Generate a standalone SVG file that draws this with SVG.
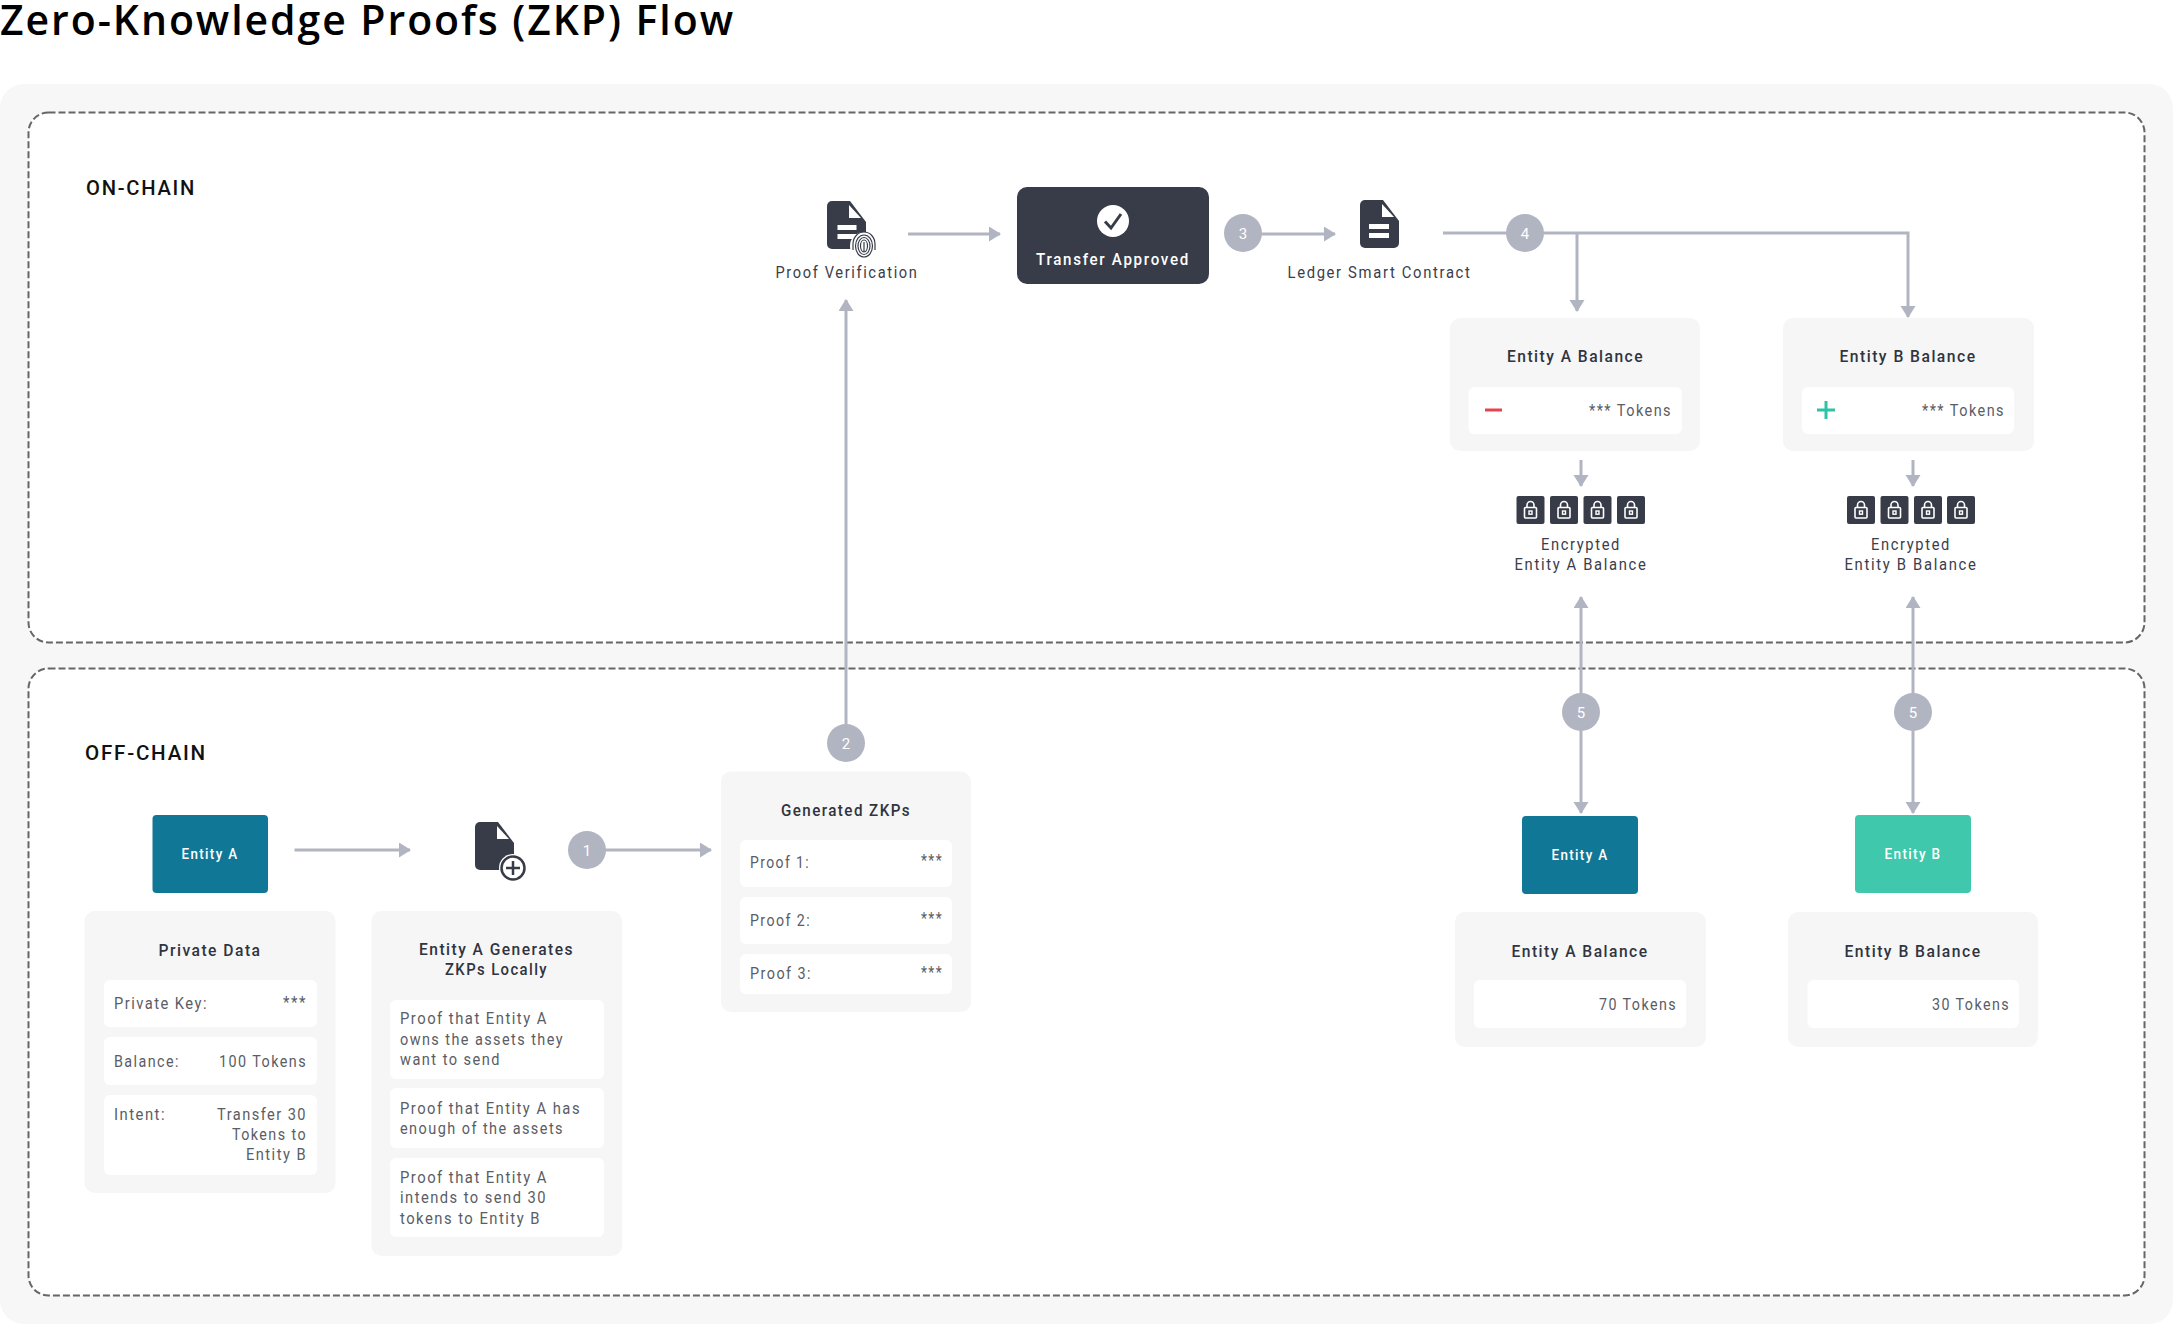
<svg xmlns="http://www.w3.org/2000/svg" xmlns:xlink="http://www.w3.org/1999/xlink" width="2173" height="1324" viewBox="0 0 2173 1324">
<style>
text{font-family:"Roboto","Liberation Sans",sans-serif;fill:#3a3e4a}
.title{font-size:42px;font-weight:600;fill:#000;font-family:"Open Sans","Noto Sans",sans-serif;letter-spacing:2px}
.zone{font-size:21px;font-weight:500;fill:#111;letter-spacing:1.8px}
.h{font-size:17px;font-weight:500;text-anchor:middle;fill:#30343e;letter-spacing:1.6px}
.b{font-size:17px;fill:#5a5d66;letter-spacing:1.7px}
.r{text-anchor:end}
.w{fill:#fff}
.ent{font-size:15px;font-weight:500;text-anchor:middle;fill:#fff;letter-spacing:1.5px}
.n{font-size:15px;text-anchor:middle;fill:#fff}
.cap{font-size:17px;text-anchor:middle;letter-spacing:1.9px}
.card{fill:#f6f6f7}
.in{fill:#fff}
.zonebox{fill:#fff;stroke:#666;stroke-width:2;stroke-dasharray:7 3}
.badge{fill:#b1b5c1}
.ln{fill:none;stroke:#b1b5c1;stroke-width:3}
.dark{fill:#383c48}
</style>
<defs>
<marker id="ah" markerUnits="userSpaceOnUse" markerWidth="13" markerHeight="16" refX="11" refY="7.5" orient="auto-start-reverse"><path d="M0 0L12 7.5L0 15Z" fill="#b1b5c1"/></marker>
<symbol id="doc" overflow="visible"><path d="M5 0H23L39 21V43a5 5 0 0 1-5 5H5a5 5 0 0 1-5-5V5a5 5 0 0 1 5-5Z" fill="#383c48"/><path d="M22 4V17H34Z" fill="#fff"/></symbol>
<g id="lock"><rect width="28" height="28" rx="2" fill="#383c48"/><rect x="8" y="11.500" width="12" height="10.500" rx="1" fill="none" stroke="#fff" stroke-width="1.600"/><path d="M10.500 11.500V9a3.500 3.500 0 0 1 7 0v2.500" fill="none" stroke="#fff" stroke-width="1.600"/><rect x="12.500" y="15" width="3" height="3.200" fill="none" stroke="#fff" stroke-width="1.400"/></g>
</defs>
<text class="title" x="0" y="35" textLength="735" lengthAdjust="spacingAndGlyphs">Zero-Knowledge Proofs (ZKP) Flow</text>
<rect x="0" y="84" width="2173" height="1240" rx="24" fill="#f7f7f7"/>
<g id="zone-on-chain"><rect class="zonebox" x="28.500" y="112.500" width="2116" height="530" rx="20"/><text class="zone" x="86" y="195" textLength="110" lengthAdjust="spacingAndGlyphs">ON-CHAIN</text></g>
<g id="zone-off-chain"><rect class="zonebox" x="28.500" y="668.500" width="2116" height="627" rx="20"/><text class="zone" x="85" y="760" textLength="122" lengthAdjust="spacingAndGlyphs">OFF-CHAIN</text></g>

<g id="connectors">
<path class="ln" d="M294.500 850H410" marker-end="url(#ah)"/>
<path class="ln" d="M587 850H711" marker-end="url(#ah)"/>
<path class="ln" d="M846 743V300" marker-end="url(#ah)"/>
<path class="ln" d="M908 234H1000" marker-end="url(#ah)"/>
<path class="ln" d="M1243 234H1335" marker-end="url(#ah)"/>
<path class="ln" d="M1443 233H1908V317" marker-end="url(#ah)"/>
<path class="ln" d="M1577 233V311" marker-end="url(#ah)"/>
<path class="ln" d="M1581 460V486" stroke-width="2" marker-end="url(#ah)"/>
<path class="ln" d="M1913 460V486" stroke-width="2" marker-end="url(#ah)"/>
<path class="ln" d="M1581 597V813" marker-start="url(#ah)" marker-end="url(#ah)"/>
<path class="ln" d="M1913 597V813" marker-start="url(#ah)" marker-end="url(#ah)"/>
</g>

<g id="proof-verification"><use xlink:href="#doc" href="#doc" x="827" y="201"/><rect x="837.500" y="225" width="19" height="5" fill="#fff"/><rect x="837.500" y="234" width="19" height="5" fill="#fff"/>
<circle cx="864" cy="246" r="14" fill="#fff"/><g fill="none" stroke="#383c48" stroke-width="1.200"><path d="M853 250V244a11 12 0 0 1 22 0V250"/><ellipse cx="864" cy="246" rx="8.500" ry="11"/><ellipse cx="864" cy="246" rx="6" ry="8.500"/><ellipse cx="864" cy="246" rx="3.500" ry="6"/><path d="M864 242V252"/></g>
<text class="cap" x="847" y="278" textLength="143" lengthAdjust="spacingAndGlyphs">Proof Verification</text></g>

<g id="transfer-approved"><rect class="dark" x="1017" y="187" width="192" height="97" rx="10"/><circle cx="1113" cy="221" r="16" fill="#fff"/><path d="M1105 221.500L1111 228L1121 214" fill="none" stroke="#383c48" stroke-width="3"/><text class="cap w" x="1113" y="265" font-weight="500" textLength="154" lengthAdjust="spacingAndGlyphs">Transfer Approved</text></g>

<g id="ledger-contract"><use xlink:href="#doc" href="#doc" x="1360" y="200"/><rect x="1369" y="224" width="20" height="5" fill="#fff"/><rect x="1369" y="233" width="20" height="5" fill="#fff"/><text class="cap" x="1379.500" y="278" textLength="184" lengthAdjust="spacingAndGlyphs">Ledger Smart Contract</text></g>

<g id="badge-3"><circle class="badge" cx="1243" cy="233" r="19"/><text class="n" x="1243" y="239">3</text></g>
<g id="badge-4"><circle class="badge" cx="1525" cy="233" r="19"/><text class="n" x="1525" y="239">4</text></g>

<g id="balance-a-onchain"><rect class="card" x="1450" y="318" width="250" height="133" rx="10"/><text class="h" x="1575.500" y="362" textLength="137" lengthAdjust="spacingAndGlyphs">Entity A Balance</text><rect class="in" x="1468.500" y="387" width="213.500" height="47" rx="6"/><rect x="1485" y="408.500" width="17" height="3" fill="#e8424f"/><text class="b r" x="1672" y="416" textLength="83" lengthAdjust="spacingAndGlyphs">*** Tokens</text></g>
<g id="balance-b-onchain"><rect class="card" x="1783" y="318" width="251" height="133" rx="10"/><text class="h" x="1908" y="362" textLength="137" lengthAdjust="spacingAndGlyphs">Entity B Balance</text><rect class="in" x="1802" y="387" width="212" height="47" rx="6"/><path d="M1817 410H1835M1826 401V419" stroke="#2fc3a5" stroke-width="3" fill="none"/><text class="b r" x="2005" y="416" textLength="83" lengthAdjust="spacingAndGlyphs">*** Tokens</text></g>

<g id="encrypted-a"><use href="#lock" xlink:href="#lock" x="1516.500" y="496"/><use href="#lock" xlink:href="#lock" x="1550" y="496"/><use href="#lock" xlink:href="#lock" x="1583.500" y="496"/><use href="#lock" xlink:href="#lock" x="1617" y="496"/><text class="cap" x="1581" y="550" textLength="80" lengthAdjust="spacingAndGlyphs">Encrypted</text><text class="cap" x="1581" y="570" textLength="133" lengthAdjust="spacingAndGlyphs">Entity A Balance</text></g>
<g id="encrypted-b"><use href="#lock" xlink:href="#lock" x="1847" y="496"/><use href="#lock" xlink:href="#lock" x="1880.500" y="496"/><use href="#lock" xlink:href="#lock" x="1914" y="496"/><use href="#lock" xlink:href="#lock" x="1947" y="496"/><text class="cap" x="1911" y="550" textLength="80" lengthAdjust="spacingAndGlyphs">Encrypted</text><text class="cap" x="1911" y="570" textLength="133" lengthAdjust="spacingAndGlyphs">Entity B Balance</text></g>

<g id="entity-a-source"><rect x="152.500" y="815" width="115.500" height="78" rx="4" fill="#107896"/><text class="ent" x="210" y="859" textLength="57" lengthAdjust="spacingAndGlyphs">Entity A</text></g>
<g id="private-data"><rect class="card" x="84.500" y="911" width="251" height="282" rx="10"/><text class="h" x="210" y="956" textLength="103" lengthAdjust="spacingAndGlyphs">Private Data</text>
<rect class="in" x="104" y="980" width="213" height="47" rx="6"/><text class="b" x="114" y="1009" textLength="94" lengthAdjust="spacingAndGlyphs">Private Key:</text><text class="b r" x="307" y="1008" textLength="24" lengthAdjust="spacingAndGlyphs">***</text>
<rect class="in" x="104" y="1037" width="213" height="48" rx="6"/><text class="b" x="114" y="1067" textLength="66" lengthAdjust="spacingAndGlyphs">Balance:</text><text class="b r" x="307" y="1067" textLength="88" lengthAdjust="spacingAndGlyphs">100 Tokens</text>
<rect class="in" x="104" y="1095" width="213" height="80" rx="6"/><text class="b" x="114" y="1120" textLength="52" lengthAdjust="spacingAndGlyphs">Intent:</text><text class="b r" x="307" y="1120" textLength="90" lengthAdjust="spacingAndGlyphs">Transfer 30</text><text class="b r" x="307" y="1140" textLength="75" lengthAdjust="spacingAndGlyphs">Tokens to</text><text class="b r" x="307" y="1160" textLength="61" lengthAdjust="spacingAndGlyphs">Entity B</text></g>

<g id="generate-zkps"><use href="#doc" xlink:href="#doc" x="475" y="822"/><circle cx="513" cy="868" r="14" fill="#fff"/><circle cx="513" cy="868" r="11.500" fill="none" stroke="#383c48" stroke-width="2.500"/><path d="M506 868H520M513 861V875" stroke="#383c48" stroke-width="2.500" fill="none"/></g>
<g id="badge-1"><circle class="badge" cx="587" cy="850" r="19"/><text class="n" x="587" y="856">1</text></g>
<g id="zkps-locally"><rect class="card" x="371.500" y="911" width="250.500" height="345" rx="10"/><text class="h" x="496.500" y="955" textLength="155" lengthAdjust="spacingAndGlyphs">Entity A Generates</text><text class="h" x="496.500" y="975" textLength="103" lengthAdjust="spacingAndGlyphs">ZKPs Locally</text>
<rect class="in" x="390" y="1000" width="214" height="79" rx="6"/><text class="b" x="400" y="1024" textLength="148" lengthAdjust="spacingAndGlyphs">Proof that Entity A</text><text class="b" x="400" y="1045" textLength="164" lengthAdjust="spacingAndGlyphs">owns the assets they</text><text class="b" x="400" y="1065" textLength="101" lengthAdjust="spacingAndGlyphs">want to send</text>
<rect class="in" x="390" y="1088" width="214" height="60" rx="6"/><text class="b" x="400" y="1114" textLength="181" lengthAdjust="spacingAndGlyphs">Proof that Entity A has</text><text class="b" x="400" y="1134" textLength="164" lengthAdjust="spacingAndGlyphs">enough of the assets</text>
<rect class="in" x="390" y="1158" width="214" height="79" rx="6"/><text class="b" x="400" y="1183" textLength="148" lengthAdjust="spacingAndGlyphs">Proof that Entity A</text><text class="b" x="400" y="1203" textLength="147" lengthAdjust="spacingAndGlyphs">intends to send 30</text><text class="b" x="400" y="1224" textLength="141" lengthAdjust="spacingAndGlyphs">tokens to Entity B</text></g>

<g id="badge-2"><circle class="badge" cx="846" cy="743" r="19"/><text class="n" x="846" y="749">2</text></g>
<g id="generated-zkps"><rect class="card" x="721" y="771.500" width="250" height="240.500" rx="10"/><text class="h" x="846" y="816" textLength="130" lengthAdjust="spacingAndGlyphs">Generated ZKPs</text>
<rect class="in" x="740" y="840" width="212" height="47" rx="6"/><text class="b" x="750" y="868" textLength="60" lengthAdjust="spacingAndGlyphs">Proof 1:</text><text class="b r" x="943" y="866" textLength="22" lengthAdjust="spacingAndGlyphs">***</text>
<rect class="in" x="740" y="897" width="212" height="47" rx="6"/><text class="b" x="750" y="926" textLength="61" lengthAdjust="spacingAndGlyphs">Proof 2:</text><text class="b r" x="943" y="924" textLength="22" lengthAdjust="spacingAndGlyphs">***</text>
<rect class="in" x="740" y="954" width="212" height="40" rx="6"/><text class="b" x="750" y="979" textLength="62" lengthAdjust="spacingAndGlyphs">Proof 3:</text><text class="b r" x="943" y="978" textLength="22" lengthAdjust="spacingAndGlyphs">***</text></g>

<g id="badge-5a"><circle class="badge" cx="1581" cy="712" r="19"/><text class="n" x="1581" y="718">5</text></g>
<g id="badge-5b"><circle class="badge" cx="1913" cy="712" r="19"/><text class="n" x="1913" y="718">5</text></g>
<g id="entity-a-final"><rect x="1522" y="816" width="116" height="78" rx="4" fill="#107896"/><text class="ent" x="1580" y="860" textLength="57" lengthAdjust="spacingAndGlyphs">Entity A</text></g>
<g id="entity-b-final"><rect x="1855" y="815" width="116" height="78" rx="4" fill="#3fc8ac"/><text class="ent" x="1913" y="859" textLength="57" lengthAdjust="spacingAndGlyphs">Entity B</text></g>
<g id="balance-a-final"><rect class="card" x="1455" y="912" width="251" height="135" rx="10"/><text class="h" x="1580" y="957" textLength="137" lengthAdjust="spacingAndGlyphs">Entity A Balance</text><rect class="in" x="1474" y="980" width="212" height="48" rx="6"/><text class="b r" x="1677" y="1010" textLength="78" lengthAdjust="spacingAndGlyphs">70 Tokens</text></g>
<g id="balance-b-final"><rect class="card" x="1788" y="912" width="250" height="135" rx="10"/><text class="h" x="1913" y="957" textLength="137" lengthAdjust="spacingAndGlyphs">Entity B Balance</text><rect class="in" x="1807.500" y="980" width="211.500" height="48" rx="6"/><text class="b r" x="2010" y="1010" textLength="78" lengthAdjust="spacingAndGlyphs">30 Tokens</text></g>
</svg>
